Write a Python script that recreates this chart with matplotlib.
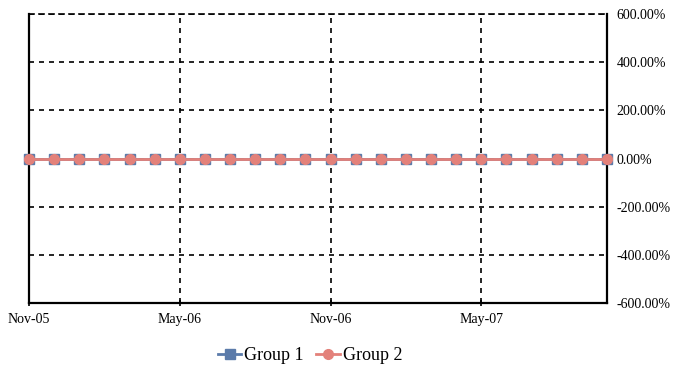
import matplotlib
matplotlib.use("Agg")
import matplotlib.pyplot as plt

months = ["Nov-05","Dec-05","Jan-06","Feb-06","Mar-06","Apr-06","May-06","Jun-06","Jul-06","Aug-06",
          "Sep-06","Oct-06","Nov-06","Dec-06","Jan-07","Feb-07","Mar-07","Apr-07","May-07","Jun-07",
          "Jul-07","Aug-07","Sep-07","Oct-07"]
group1 = [0.0]*24
group2 = [0.0]*24
yticks = [-600, -400, -200, 0, 200, 400, 600]
xtick_labels = ["Nov-05", "May-06", "Nov-06", "May-07"]

plt.rcParams['font.family'] = ['Liberation Serif', 'DejaVu Serif']
fig = plt.figure(figsize=(6.73, 3.66), dpi=100)
ax = fig.add_axes([29/673, 1-303/366, (607-29)/673, (303-14)/366])

x = list(range(len(months)))
ax.plot(x, group1, color='#5B7BAA', marker='s', markersize=7, linewidth=2, label='Group 1', clip_on=False, zorder=3)
ax.plot(x, group2, color='#E3817A', marker='o', markersize=7, linewidth=2, label='Group 2', clip_on=False, zorder=4)

ax.set_xlim(0, len(months)-1)
ax.set_ylim(-600, 600)
ax.yaxis.tick_right()
ax.set_yticks(yticks)
ax.set_yticklabels([f"{v:.2f}%" for v in yticks], fontsize=10)
ax.set_xticks([months.index(m) for m in xtick_labels])
ax.set_xticklabels(xtick_labels, fontsize=10)
ax.tick_params(axis='x', length=4, direction='inout', pad=5, width=1.2)
ax.tick_params(axis='y', length=0, pad=7)
ax.grid(True, color='black', linestyle=(0, (3, 3)), linewidth=1.2)
for s in ['left', 'right', 'bottom']:
    ax.spines[s].set_linewidth(1.6)
ax.spines['top'].set_linestyle((0, (3, 3)))
ax.spines['top'].set_linewidth(1.2)

leg = fig.legend(loc='center', bbox_to_anchor=(310/673, 1-356/366), ncol=2, frameon=False,
                 fontsize=13, handlelength=1.3, handletextpad=0.15, columnspacing=0.7, markerscale=1.0)
fig.savefig("out.png", dpi=100)
